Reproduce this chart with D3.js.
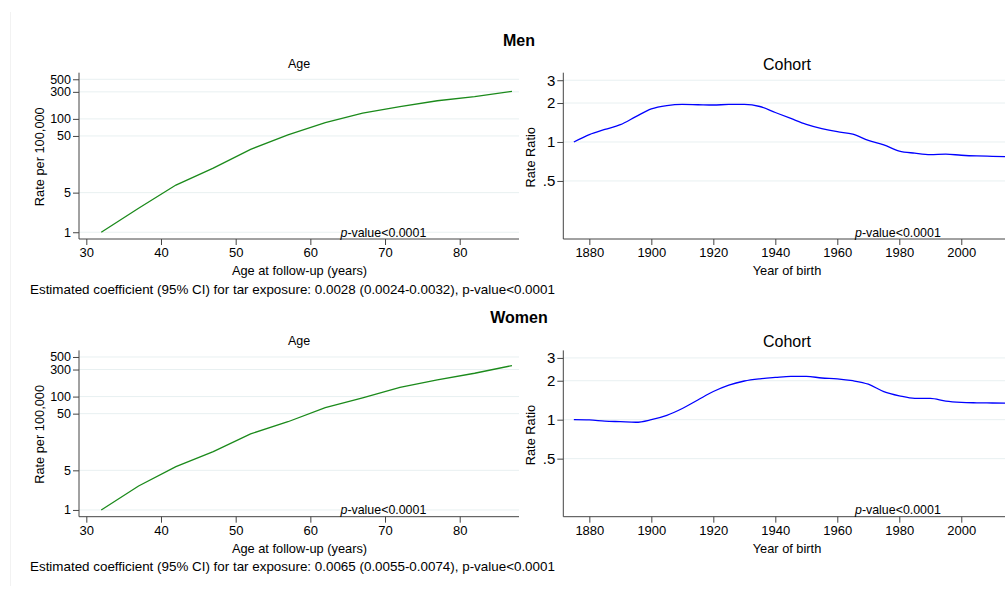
<!DOCTYPE html>
<html><head><meta charset="utf-8">
<script src="https://cdn.jsdelivr.net/npm/d3@7"></script>
<style>
html,body{margin:0;padding:0;background:#fff;}
svg{display:block;font-family:"Liberation Sans",Arial,sans-serif;}
</style></head>
<body><svg id="chart" width="1005" height="589"></svg>
<script>
// ---- data ----
const ages = [32, 37, 42, 47, 52, 57, 62, 67, 72, 77, 82, 87];
const menAgeRate = [1, 2.65, 6.8, 13.5, 29, 52, 86, 126, 164, 209, 246, 307];
const womenAgeRate = [1, 2.65, 5.8, 10.7, 22, 36, 64, 95, 146, 197, 258, 352];

const cohortYears = [1875,1880,1885,1890,1895,1900,1905,1910,1915,1920,1925,1930,1935,1940,1945,1950,1955,1960,1965,1970,1975,1980,1985,1990,1995,2000,2005,2010,2015];
const menCohortRR = [1.00,1.14,1.25,1.36,1.57,1.80,1.91,1.95,1.94,1.93,1.95,1.95,1.88,1.69,1.52,1.37,1.27,1.20,1.15,1.03,0.95,0.85,0.82,0.80,0.805,0.79,0.78,0.775,0.77];
const womenCohortRR = [1.00,0.995,0.975,0.965,0.955,1.00,1.08,1.22,1.42,1.65,1.85,1.99,2.07,2.12,2.16,2.16,2.10,2.07,2.00,1.88,1.65,1.53,1.46,1.46,1.39,1.36,1.35,1.345,1.34];

const ageTicks = [30, 40, 50, 60, 70, 80];
const rateTicks = [1, 5, 50, 100, 300, 500];
const yearTicks = [1880, 1900, 1920, 1940, 1960, 1980, 2000];
const ratioTicks = [0.5, 1, 2, 3];
const ratioTickLabels = [".5", "1", "2", "3"];

const rows = [
  {title: "Men", ageRate: menAgeRate, cohortRR: menCohortRR,
   note: "Estimated coefficient (95% CI) for tar exposure: 0.0028 (0.0024-0.0032), p-value<0.0001"},
  {title: "Women", ageRate: womenAgeRate, cohortRR: womenCohortRR,
   note: "Estimated coefficient (95% CI) for tar exposure: 0.0065 (0.0055-0.0074), p-value<0.0001"}
];

// ---- layout ----
const svg = d3.select("#chart");
const rowStep = 277.7;
const L = {x0: 79, x1: 519};
const R = {x0: 563.3, x1: 1005};
const yTop = 72.7, yBot = 239;
const gridColor = "#e8f0f1";
const axisColor = "#444";
const FONT = "Liberation Sans, Arial, sans-serif";

// faint frame line at left
svg.append("line").attr("x1", 10.5).attr("x2", 10.5).attr("y1", 12).attr("y2", 586)
  .attr("stroke", "#f2f2f2").attr("stroke-width", 1);

rows.forEach((row, i) => {
  const dy = i * rowStep;
  const g = svg.append("g").attr("transform", `translate(0,${dy})`);

  // Super-title
  g.append("text").attr("x", 519).attr("y", 45.5).attr("text-anchor", "middle")
    .attr("font-weight", "bold").attr("font-size", 16).attr("fill", "#000").text(row.title);

  // ---------- Left panel: Age ----------
  const xA = d3.scaleLinear().domain([29.02, 87.94]).range([L.x0, L.x1]);
  const yA = d3.scaleLog().domain([0.76, 653]).range([yBot, yTop]);

  g.append("g").selectAll("line").data(rateTicks).join("line")
    .attr("x1", L.x0).attr("x2", L.x1).attr("y1", d => yA(d)).attr("y2", d => yA(d))
    .attr("stroke", gridColor).attr("stroke-width", 1);

  const yAxisA = d3.axisLeft(yA).tickValues(rateTicks).tickFormat(d3.format("d")).tickSize(6).tickPadding(2);
  const gyA = g.append("g").attr("transform", `translate(${L.x0},0)`).call(yAxisA);
  gyA.select(".domain").attr("d", `M0,${yTop}V${yBot}`);
  const xAxisA = d3.axisBottom(xA).tickValues(ageTicks).tickSize(6).tickPadding(3);
  const gxA = g.append("g").attr("transform", `translate(0,${yBot})`).call(xAxisA);
  gxA.select(".domain").attr("d", `M${L.x0},0H${L.x1}`);
  [gyA, gxA].forEach(a => {
    a.selectAll(".domain, .tick line").attr("stroke", axisColor);
    a.selectAll(".tick text").attr("fill", "#000").attr("font-family", FONT);
  });
  gyA.selectAll(".tick text").attr("font-size", 12.5);
  gxA.selectAll(".tick text").attr("font-size", 13);

  const lineA = d3.line().x((d, k) => xA(ages[k])).y(d => yA(d));
  g.append("path").datum(row.ageRate).attr("d", lineA)
    .attr("fill", "none").attr("stroke", "#1b8a1b").attr("stroke-width", 1.3);

  g.append("text").attr("x", 299).attr("y", 67.5).attr("text-anchor", "middle")
    .attr("font-size", 12.5).text("Age");
  g.append("text").attr("transform", "translate(43.5,156.7) rotate(-90)").attr("text-anchor", "middle")
    .attr("font-size", 12.8).text("Rate per 100,000");
  g.append("text").attr("x", 299.5).attr("y", 275).attr("text-anchor", "middle")
    .attr("font-size", 12.8).text("Age at follow-up (years)");
  const pA = g.append("text").attr("x", 340.5).attr("y", 236.5).attr("font-size", 12.4);
  pA.append("tspan").attr("font-style", "italic").text("p");
  pA.append("tspan").text("-value<0.0001");
  g.append("text").attr("x", 30).attr("y", 293.5).attr("font-size", 13.4).text(row.note);

  // ---------- Right panel: Cohort ----------
  const xC = d3.scaleLinear().domain([1871.6, 2014.1]).range([R.x0, R.x1]);
  const yC = d3.scaleLog().domain([0.178, 3.43]).range([yBot, yTop]);

  g.append("g").selectAll("line").data(ratioTicks).join("line")
    .attr("x1", R.x0).attr("x2", R.x1).attr("y1", d => yC(d)).attr("y2", d => yC(d))
    .attr("stroke", gridColor).attr("stroke-width", 1);

  const yAxisC = d3.axisLeft(yC).tickValues(ratioTicks).tickFormat((d, k) => ratioTickLabels[k]).tickSize(6).tickPadding(2);
  const gyC = g.append("g").attr("transform", `translate(${R.x0},0)`).call(yAxisC);
  gyC.select(".domain").attr("d", `M0,${yTop}V${yBot}`);
  const xAxisC = d3.axisBottom(xC).tickValues(yearTicks).tickFormat(d3.format("d")).tickSize(6).tickPadding(3);
  const gxC = g.append("g").attr("transform", `translate(0,${yBot})`).call(xAxisC);
  gxC.select(".domain").attr("d", `M${R.x0},0H${R.x1}`);
  [gyC, gxC].forEach(a => {
    a.selectAll(".domain, .tick line").attr("stroke", axisColor);
    a.selectAll(".tick text").attr("fill", "#000").attr("font-family", FONT);
  });
  gyC.selectAll(".tick text").attr("font-size", 15);
  gxC.selectAll(".tick text").attr("font-size", 13);

  const lineC = d3.line().curve(d3.curveMonotoneX).x((d, k) => xC(cohortYears[k])).y(d => yC(d));
  g.append("path").datum(row.cohortRR).attr("d", lineC)
    .attr("fill", "none").attr("stroke", "#0000ff").attr("stroke-width", 1.3);

  g.append("text").attr("x", 787).attr("y", 69.5).attr("text-anchor", "middle")
    .attr("font-size", 16).text("Cohort");
  g.append("text").attr("transform", "translate(534.5,157.3) rotate(-90)").attr("text-anchor", "middle")
    .attr("font-size", 12.8).text("Rate Ratio");
  g.append("text").attr("x", 787).attr("y", 275).attr("text-anchor", "middle")
    .attr("font-size", 12.8).text("Year of birth");
  const pC = g.append("text").attr("x", 855).attr("y", 236.5).attr("font-size", 12.4);
  pC.append("tspan").attr("font-style", "italic").text("p");
  pC.append("tspan").text("-value<0.0001");
});
</script>
</body></html>
